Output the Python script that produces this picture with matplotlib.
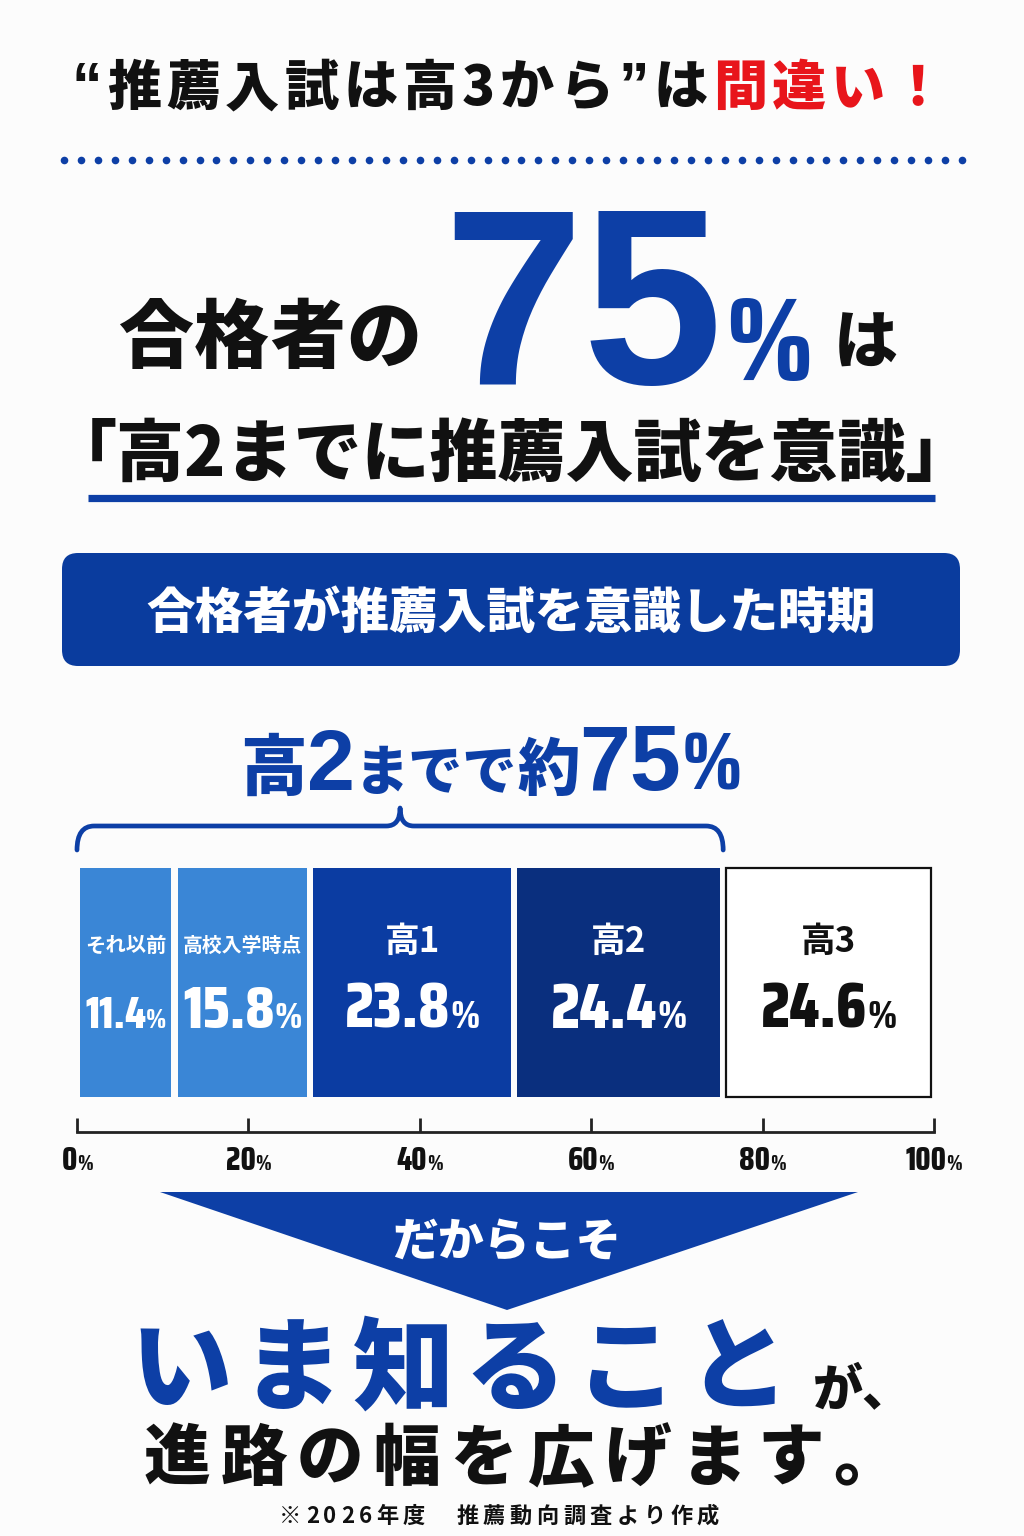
import os
import numpy as np
import matplotlib
matplotlib.use('Agg')
import matplotlib.pyplot as plt
from matplotlib.patches import FancyBboxPatch, Polygon, PathPatch
from matplotlib.path import Path
from matplotlib.font_manager import FontProperties, findfont, get_font, fontManager, weight_dict

# data
categories = ['それ以前', '高校入学時点', '高1', '高2', '高3']
shares = [11.4, 15.8, 23.8, 24.4, 24.6]
tick_vals = [0, 20, 40, 60, 80, 100]
upto = 4          # bars covered by the brace (up to 高2)

bar_colors = ['#3a86d6', '#3a86d6', '#0b3ca2', '#0a2f7e', '#ffffff']
text_colors = ['white', 'white', 'white', 'white', '#111111']

BLUE = '#0d3fa6'
NAVY = '#0a3c9e'
RED = '#e8151b'
BLACK = '#111111'
JP = ['Noto Sans CJK JP', 'DejaVu Sans']
SANS = ['Liberation Sans', 'DejaVu Sans']


def fprop(fam, wt, size):
    if isinstance(fam, str) and os.path.exists(fam):
        return FontProperties(fname=fam, size=size)
    return FontProperties(family=fam, weight=wt, size=size)


def adv(s, size, fam, wt):
    f = get_font(findfont(fprop(fam, wt, size)))
    f.set_size(size, 100)
    tot = 0.0
    for ch in s:
        tot += f.load_char(ord(ch)).linearHoriAdvance / 65536
    return tot


# a moderately condensed bold sans for the numbers
def pick_narrow(target=0.48):
    best, best_d = SANS, abs(adv('0', 100, SANS, 'bold') / 138.9 - target)
    for f in fontManager.ttflist:
        n = f.name.lower()
        if any(k in n for k in ('mono', 'serif', 'extra', 'ultra', 'cjk')):
            continue
        if 'extra' in str(f.stretch) or 'ultra' in str(f.stretch):
            continue
        cond = 'narrow' in n or 'condensed' in n or 'condensed' in str(f.stretch)
        w = weight_dict.get(f.weight, 0) if isinstance(f.weight, str) else f.weight
        if cond and isinstance(w, (int, float)) and 700 <= w <= 800:
            try:
                aw = adv('0', 100, f.fname, 'bold') / 138.9
            except Exception:
                continue
            if abs(aw - target) < best_d:
                best, best_d = f.fname, abs(aw - target)
    return best


NUM = pick_narrow()

W, H = 1024, 1536
fig = plt.figure(figsize=(W / 100, H / 100), dpi=100)
fig.patch.set_facecolor('#fcfcfc')

# overlay in image pixels (y down)
ov = fig.add_axes([0, 0, 1, 1])
ov.set_xlim(0, W)
ov.set_ylim(H, 0)
ov.axis('off')
ov.set_zorder(3)


def rich(x, y, parts, ha='center', track=0.0, fit=None, z=5):
    # parts: (text, size, color[, family, weight])
    def build(scale):
        items = []
        for p in parts:
            s, size, color = p[0], p[1] * scale, p[2]
            fam = p[3] if len(p) > 3 else JP
            wt = p[4] if len(p) > 4 else 'heavy'
            for c in (list(s) if track else [s]):
                items.append((c, size, color, fam, wt, adv(c, size, fam, wt)))
        return items
    items = build(1.0)
    total = sum(i[5] for i in items) + track * (len(items) - 1)
    if fit is not None and total > fit:
        items = build(fit / total)
        total = sum(i[5] for i in items) + track * (len(items) - 1)
    x0 = x - total / 2 if ha == 'center' else x
    for c, size, color, fam, wt, w in items:
        ov.text(x0, y, c, fontproperties=fprop(fam, wt, size), color=color,
                ha='left', va='baseline', zorder=z)
        x0 += w + track
    return x0


# header
rich(508, 105, [('“', 44, BLACK, SANS, 'bold'), ('推薦入試は高3から', 39, BLACK),
                ('”', 44, BLACK, SANS, 'bold'), ('は', 39, BLACK),
                ('間違い！', 39, RED)], track=5)
dots_x = np.linspace(64, 962, 54)
ov.scatter(dots_x, np.full_like(dots_x, 160), s=30, color=BLUE, lw=0)

# big statement
rich(118, 362, [('合格者の', 54, BLACK)], ha='left', track=1)
end = rich(443, 384, [('75', 181, BLUE, SANS, 'bold')], ha='left')
rich(end + 3, 380, [('%', 118, BLUE, NUM, 'bold')], ha='left', fit=88)
rich(834, 364, [('は', 46, BLACK)], ha='left')
rich(512, 476, [('「高2までに推薦入試を意識」', 49, BLACK)])
ov.plot([88, 935], [498, 498], color=BLUE, lw=5.2, solid_capstyle='butt')

# banner
ov.add_patch(FancyBboxPatch((62, 553), 898, 113,
                            boxstyle='round,pad=0,rounding_size=16',
                            fc=NAVY, ec='none'))
rich(511, 628, [('合格者が推薦入試を意識した時期', 35, 'white')])

# sub-headline
rich(491, 790, [('高', 48, BLUE), ('2', 62, BLUE, SANS, 'bold'),
                ('までで', 39, BLUE), ('約', 45, BLUE),
                ('75', 66, BLUE, SANS, 'bold'), ('%', 58, BLUE, NUM, 'bold')], fit=510)

# bar chart (x in percent, y in image pixels)
bx = fig.add_axes([77 / W, 1 - 1132 / H, 857 / W, (1132 - 800) / H])
bx.set_xlim(0, 100)
bx.set_ylim(1132, 800)
bx.patch.set_alpha(0)
cum = np.cumsum(shares)
lefts = cum - np.array(shares)
gap = 0.75
bar_top, bar_bot = 868, 1097
bx.barh((bar_top + bar_bot) / 2, np.array(shares) - gap, left=lefts + gap / 2,
        height=bar_bot - bar_top, color=bar_colors,
        edgecolor=['none'] * 4 + [BLACK], linewidth=[0] * 4 + [1.6])
for s in ['top', 'left', 'right']:
    bx.spines[s].set_visible(False)
bx.spines['bottom'].set_linewidth(2)
bx.spines['bottom'].set_color('#222222')
bx.set_xticks(tick_vals)
bx.set_yticks([])
bx.tick_params(axis='x', direction='in', length=10, width=2, color='#222222',
               labelbottom=False)

# brace over the bars up to 高2
bend = cum[upto - 1]
mid = bend / 2
r1, r2 = 2.0, 1.6
verts = [(0, 850), (0, 826), (r1, 826), (mid - r2, 826), (mid, 826), (mid, 808),
         (mid, 826), (mid + r2, 826), (bend - r1, 826), (bend, 826), (bend, 850)]
codes = [Path.MOVETO, Path.CURVE3, Path.CURVE3, Path.LINETO, Path.CURVE3, Path.CURVE3,
         Path.CURVE3, Path.CURVE3, Path.LINETO, Path.CURVE3, Path.CURVE3]
bx.add_patch(PathPatch(Path(verts, codes), fc='none', ec=BLUE, lw=3.4,
                       clip_on=False, capstyle='round', joinstyle='round'))


def to_px(x, y):
    return ov.transData.inverted().transform(bx.transData.transform((x, y)))


for i, cat in enumerate(categories):
    x0 = to_px(lefts[i] + gap / 2, 0)[0]
    x1 = to_px(cum[i] - gap / 2, 0)[0]
    cx = (x0 + x1) / 2
    wpx = x1 - x0 - 10
    csize = 21 if i < 2 else 25
    rich(cx, 952, [(cat, csize, text_colors[i], JP, 'bold')], fit=wpx)
    rich(cx, 1028, [(f'{shares[i]:.1f}', 46, text_colors[i], NUM, 'bold'),
                    ('%', 28, text_colors[i], NUM, 'bold')], fit=wpx)

for t in tick_vals:
    px = to_px(t, 1132)[0]
    rich(px, 1170, [(str(t), 23, BLACK, NUM, 'bold'), ('%', 15, BLACK, NUM, 'bold')])

# arrow + closing message
ov.add_patch(Polygon([(160, 1192), (858, 1192), (507, 1310)], closed=True,
                     fc=BLUE, ec='none'))
rich(507, 1256, [('だからこそ', 33, 'white')])
end = rich(130, 1402, [('いま知ること', 73, BLUE)], ha='left', track=10)
rich(end + 15, 1405, [('が、', 36, BLACK)], ha='left')
rich(522, 1480, [('進路の幅を広げます。', 48, BLACK)], track=10)
rich(499, 1523, [('※2026年度　推薦動向調査より作成', 16, BLACK, JP, 'bold')], track=4.5)

fig.savefig('out.png', dpi=100, facecolor=fig.get_facecolor())
